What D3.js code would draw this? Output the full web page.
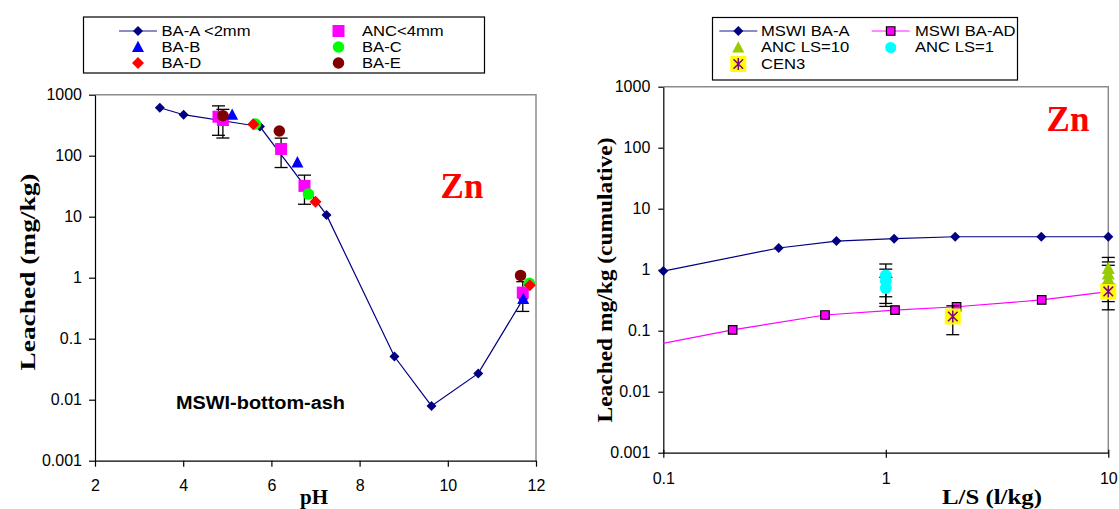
<!DOCTYPE html>
<html>
<head>
<meta charset="utf-8">
<script src="https://cdn.jsdelivr.net/npm/d3@7"></script>
<style>
  html, body { margin: 0; padding: 0; background: #fff; }
  svg { display: block; }
</style>
</head>
<body>
<svg id="chart" width="1119" height="509"></svg>
<script>
// ---------- Left panel: leaching of Zn as a function of pH ----------
const yTickValues = [0.001, 0.01, 0.1, 1, 10, 100, 1000];
const yTickLabels = ["0.001", "0.01", "0.1", "1", "10", "100", "1000"];
const pHTicks = [2, 4, 6, 8, 10, 12];

const baA_pH  = [3.47, 4.01, 5.74, 7.25, 8.79, 9.63, 10.69, 11.71];
const baA_val = [612, 470, 300, 10.7, 0.051, 0.0079, 0.027, 0.45];

const anc_pH  = [4.80, 4.90, 6.22, 6.75, 11.70];
const anc_val = [436, 385, 129, 32, 0.57];
const anc_err = [220, 190, 65, 16, 0.29];

const baB_pH  = [5.11, 6.59, 11.71];
const baB_val = [470, 78, 0.45];

const baC_pH  = [5.64, 6.84, 11.85];
const baC_val = [331, 23.5, 0.81];

const baD_pH  = [5.59, 7.00, 11.86];
const baD_val = [327, 17.6, 0.75];

const baE_pH  = [4.90, 6.18, 11.65];
const baE_val = [453, 254, 1.09];

// ---------- Right panel: cumulative release vs L/S ----------
const lsTicks = [0.1, 1, 10];
const lsTickLabels = ["0.1", "1", "10"];

const mswiA_ls  = [0.1, 0.33, 0.6, 1.09, 2.05, 5.0, 10];
const mswiA_val = [0.95, 2.27, 2.95, 3.22, 3.47, 3.47, 3.47];

const mswiAD_ls  = [0.05, 0.205, 0.533, 1.1, 2.08, 5.02, 10];
const mswiAD_val = [0.038, 0.103, 0.181, 0.218, 0.247, 0.319, 0.436];

const ancLS10_ls  = [10, 10, 10];
const ancLS10_val = [1.05, 0.85, 0.70];
const ancLS10_err = [0.54, 0.49, 0.48];

const ancLS1_ls  = [1, 1, 1];
const ancLS1_val = [0.80, 0.65, 0.50];
const ancLS1_err = [0.44, 0.37, 0.25];

const cen3_ls  = [2, 10];
const cen3_val = [0.171, 0.44];
const cen3_err = [0.085, 0.14];

// ---------- helpers ----------
const svg = d3.select("#chart");
const NAVY = "#000080", MAGENTA = "#ff00ff", BLUE = "#0000ff",
      LIME = "#00ff00", RED = "#ff0000", MAROON = "#800000",
      OLIVE = "#99cc00", CYAN = "#00ffff", YELLOW = "#ffff00", PURPLE = "#800080";
const SANS = "Liberation Sans, Arial, sans-serif";
const SERIF = "Liberation Serif, Times New Roman, serif";

function zip(xs, ys, es) {
  return xs.map((x, i) => ({ x, y: ys[i], e: es ? es[i] : null }));
}

function markerPath(shape, s) {
  const h = s / 2;
  if (shape === "diamond") return `M0,${-h}L${h},0L0,${h}L${-h},0Z`;
  if (shape === "square") return `M${-h},${-h}H${h}V${h}H${-h}Z`;
  if (shape === "triangle") return `M0,${-h * 1.05}L${h},${h * 0.85}L${-h},${h * 0.85}Z`;
  if (shape === "circle") return d3.symbol(d3.symbolCircle, Math.PI * h * h)();
  return "";
}

function drawMarkers(g, data, xs, ys, shape, size, fill, stroke) {
  g.selectAll(null).data(data).join("path")
    .attr("d", markerPath(shape, size))
    .attr("transform", d => `translate(${xs(d.x)},${ys(d.y)})`)
    .attr("fill", fill)
    .attr("stroke", stroke || "none")
    .attr("stroke-width", stroke ? 1.2 : 0);
}

function drawErrorBars(g, data, xs, ys, cap) {
  const eg = g.append("g").attr("stroke", "#000").attr("stroke-width", 1.3).attr("fill", "none");
  data.forEach(d => {
    const x = xs(d.x), yHi = ys(d.y + d.e), yLo = ys(Math.max(d.y - d.e, 1e-6));
    eg.append("line").attr("x1", x).attr("x2", x).attr("y1", yHi).attr("y2", yLo);
    eg.append("line").attr("x1", x - cap / 2).attr("x2", x + cap / 2).attr("y1", yHi).attr("y2", yHi);
    eg.append("line").attr("x1", x - cap / 2).attr("x2", x + cap / 2).attr("y1", yLo).attr("y2", yLo);
  });
}

function cen3Marker(g, data, xs, ys) {
  const s = 16, h = 6;
  const mg = g.selectAll(null).data(data).join("g")
    .attr("transform", d => `translate(${xs(d.x)},${ys(d.y)})`);
  mg.append("rect").attr("x", -s / 2).attr("y", -s / 2).attr("width", s).attr("height", s).attr("fill", YELLOW);
  mg.append("path")
    .attr("d", `M0,${-h}V${h}M${-h * 0.8},${-h * 0.8}L${h * 0.8},${h * 0.8}M${h * 0.8},${-h * 0.8}L${-h * 0.8},${h * 0.8}`)
    .attr("stroke", PURPLE).attr("stroke-width", 1.5).attr("fill", "none");
}

function styleAxis(g) {
  g.selectAll("path.domain").attr("stroke", "#000").attr("stroke-width", 1.2);
  g.selectAll(".tick line").attr("stroke", "#000").attr("stroke-width", 1.2);
  g.selectAll(".tick text").attr("font-family", SANS).attr("font-size", 16).attr("fill", "#000");
}

// legend label: compact font, widened to the legend's column spacing
function legendText(g, x, y, label) {
  const t = g.append("text").attr("x", x).attr("y", y)
    .attr("font-family", SANS).attr("font-size", 14.2).text(label);
  const w = t.node().getComputedTextLength();
  t.attr("textLength", w * 1.17).attr("lengthAdjust", "spacingAndGlyphs");
  return t;
}

// ================= LEFT PANEL =================
const xL = d3.scaleLinear().domain([2, 12]).range([95, 536]);
const yL = d3.scaleLog().domain([0.001, 1000]).range([460.7, 94.7]);

const left = svg.append("g");

// plot-area frame (top/right)
left.append("path")
  .attr("d", `M${xL(2)},${yL(1000)}H${xL(12)}V${yL(0.001)}`)
  .attr("fill", "none").attr("stroke", "#8c8c8c").attr("stroke-width", 1.5);

const yAxisL = left.append("g").attr("transform", `translate(${xL(2)},0)`)
  .call(d3.axisLeft(yL).tickValues(yTickValues)
    .tickFormat((d, i) => yTickLabels[i]).tickSizeInner(6).tickSizeOuter(0).tickPadding(7));
styleAxis(yAxisL);

const xAxisL = left.append("g").attr("transform", `translate(0,${yL(0.001)})`)
  .call(d3.axisBottom(xL).tickValues(pHTicks).tickFormat(d3.format("d"))
    .tickSizeInner(6).tickSizeOuter(0).tickPadding(13));
styleAxis(xAxisL);

// series
const lineL = d3.line().x(d => xL(d.x)).y(d => yL(d.y));
const baA = zip(baA_pH, baA_val);
left.append("path").attr("d", lineL(baA)).attr("fill", "none").attr("stroke", NAVY).attr("stroke-width", 1.2);
drawMarkers(left, baA, xL, yL, "diamond", 10, NAVY);

const anc = zip(anc_pH, anc_val, anc_err);
drawErrorBars(left, anc, xL, yL, 13);
drawMarkers(left, anc, xL, yL, "square", 12, MAGENTA);

drawMarkers(left, zip(baB_pH, baB_val), xL, yL, "triangle", 12, BLUE);
drawMarkers(left, zip(baC_pH, baC_val), xL, yL, "circle", 11.5, LIME);
drawMarkers(left, zip(baD_pH, baD_val), xL, yL, "diamond", 12, RED);
drawMarkers(left, zip(baE_pH, baE_val), xL, yL, "circle", 11.5, MAROON);

// annotations
left.append("text").attr("x", 462).attr("y", 197.5).attr("text-anchor", "middle")
  .attr("font-family", SERIF).attr("font-weight", "bold")
  .attr("font-size", 35).attr("fill", RED).text("Zn");
left.append("text").attr("x", 176).attr("y", 408.5)
  .attr("font-family", SANS).attr("font-weight", "bold")
  .attr("font-size", 17.5).attr("textLength", 169).attr("lengthAdjust", "spacingAndGlyphs")
  .text("MSWI-bottom-ash");

// axis titles
left.append("text").attr("x", 314).attr("y", 504).attr("text-anchor", "middle")
  .attr("font-family", SERIF).attr("font-weight", "bold")
  .attr("font-size", 21).text("pH");
left.append("text").attr("transform", "translate(35,272) rotate(-90)").attr("text-anchor", "middle")
  .attr("font-family", SERIF).attr("font-weight", "bold")
  .attr("font-size", 21).attr("textLength", 197).attr("lengthAdjust", "spacingAndGlyphs")
  .text("Leached (mg/kg)");

// legend
const legL = left.append("g");
legL.append("rect").attr("x", 83.5).attr("y", 17).attr("width", 401).attr("height", 56)
  .attr("fill", "#fff").attr("stroke", "#000").attr("stroke-width", 1.2);
const legLItems = [
  { label: "BA-A <2mm", shape: "diamond", size: 10, fill: NAVY, line: NAVY, col: 0, row: 0 },
  { label: "ANC<4mm", shape: "square", size: 12, fill: MAGENTA, col: 1, row: 0 },
  { label: "BA-B", shape: "triangle", size: 12, fill: BLUE, col: 0, row: 1 },
  { label: "BA-C", shape: "circle", size: 11.5, fill: LIME, col: 1, row: 1 },
  { label: "BA-D", shape: "diamond", size: 12, fill: RED, col: 0, row: 2 },
  { label: "BA-E", shape: "circle", size: 11.5, fill: MAROON, col: 1, row: 2 }
];
legLItems.forEach(it => {
  const mx = it.col === 0 ? 138 : 338.5, ty = 35.5 + it.row * 16, my = 31 + it.row * 16;
  if (it.line) legL.append("line").attr("x1", mx - 19).attr("x2", mx + 19).attr("y1", my).attr("y2", my)
    .attr("stroke", it.line).attr("stroke-opacity", 0.6).attr("stroke-width", 1.5);
  legL.append("path").attr("d", markerPath(it.shape, it.size)).attr("transform", `translate(${mx},${my})`)
    .attr("fill", it.fill);
  legendText(legL, mx + 23.5, ty, it.label);
});

// ================= RIGHT PANEL =================
const xR = d3.scaleLog().domain([0.1, 10]).range([663.3, 1108.3]);
const yR = d3.scaleLog().domain([0.001, 1000]).range([452.7, 86.7]);

const right = svg.append("g");
right.append("path")
  .attr("d", `M${xR(0.1)},${yR(1000)}H${xR(10)}V${yR(0.001)}`)
  .attr("fill", "none").attr("stroke", "#8c8c8c").attr("stroke-width", 1.5);

const yAxisR = right.append("g").attr("transform", `translate(${xR(0.1)},0)`)
  .call(d3.axisLeft(yR).tickValues(yTickValues)
    .tickFormat((d, i) => yTickLabels[i]).tickSizeInner(5).tickSizeOuter(0).tickPadding(8));
styleAxis(yAxisR);

const xAxisR = right.append("g").attr("transform", `translate(0,${yR(0.001)})`)
  .call(d3.axisBottom(xR).tickValues(lsTicks).tickFormat((d, i) => lsTickLabels[i])
    .tickSizeInner(4).tickSizeOuter(0).tickPadding(16));
styleAxis(xAxisR);
xAxisR.selectAll(".tick line").attr("y1", -3).attr("y2", 5);

right.append("clipPath").attr("id", "plotR").append("rect")
  .attr("x", xR(0.1)).attr("y", yR(1000)).attr("width", xR(10) - xR(0.1)).attr("height", yR(0.001) - yR(1000));
const plotR = right.append("g").attr("clip-path", "url(#plotR)");
const overR = right.append("g");

const lineR = d3.line().x(d => xR(d.x)).y(d => yR(d.y));
const mA = zip(mswiA_ls, mswiA_val);
plotR.append("path").attr("d", lineR(mA)).attr("fill", "none").attr("stroke", NAVY).attr("stroke-width", 1.2);
drawMarkers(overR, mA, xR, yR, "diamond", 10, NAVY);

const mAD = zip(mswiAD_ls, mswiAD_val);
plotR.append("path").attr("d", lineR(mAD)).attr("fill", "none").attr("stroke", MAGENTA).attr("stroke-width", 1.2);
drawMarkers(plotR, mAD, xR, yR, "square", 8.5, MAGENTA, "#000");

const a10 = zip(ancLS10_ls, ancLS10_val, ancLS10_err);
drawErrorBars(overR, a10, xR, yR, 13);
drawMarkers(overR, a10, xR, yR, "triangle", 13, OLIVE);

const a1 = zip(ancLS1_ls, ancLS1_val, ancLS1_err);
drawErrorBars(overR, a1, xR, yR, 13);
drawMarkers(overR, a1, xR, yR, "circle", 12, CYAN);

const c3 = zip(cen3_ls, cen3_val, cen3_err);
drawErrorBars(overR, c3, xR, yR, 13);
cen3Marker(overR, c3, xR, yR);

// annotation
right.append("text").attr("x", 1068).attr("y", 130.5).attr("text-anchor", "middle")
  .attr("font-family", SERIF).attr("font-weight", "bold")
  .attr("font-size", 35).attr("fill", RED).text("Zn");

// axis titles
right.append("text").attr("x", 992).attr("y", 504).attr("text-anchor", "middle")
  .attr("font-family", SERIF).attr("font-weight", "bold")
  .attr("font-size", 21).attr("textLength", 100).attr("lengthAdjust", "spacingAndGlyphs")
  .text("L/S (l/kg)");
right.append("text").attr("transform", "translate(612,280) rotate(-90)").attr("text-anchor", "middle")
  .attr("font-family", SERIF).attr("font-weight", "bold")
  .attr("font-size", 21).attr("textLength", 285).attr("lengthAdjust", "spacingAndGlyphs")
  .text("Leached mg/kg (cumulative)");

// legend
const legR = right.append("g");
legR.append("rect").attr("x", 712.5).attr("y", 17.5).attr("width", 305).attr("height", 62.5)
  .attr("fill", "#fff").attr("stroke", "#000").attr("stroke-width", 1.2);
const legRItems = [
  { label: "MSWI BA-A", kind: "diamond", col: 0, row: 0 },
  { label: "MSWI BA-AD", kind: "squareLine", col: 1, row: 0 },
  { label: "ANC LS=10", kind: "triangle", col: 0, row: 1 },
  { label: "ANC LS=1", kind: "circle", col: 1, row: 1 },
  { label: "CEN3", kind: "cen3", col: 0, row: 2 }
];
legRItems.forEach(it => {
  const mx = it.col === 0 ? 738.3 : 890.7, my = 31 + it.row * 16.5, ty = 35.7 + it.row * 16.5;
  if (it.kind === "diamond") {
    legR.append("line").attr("x1", mx - 19).attr("x2", mx + 19).attr("y1", my).attr("y2", my)
      .attr("stroke", NAVY).attr("stroke-opacity", 0.6).attr("stroke-width", 1.5);
    legR.append("path").attr("d", markerPath("diamond", 10)).attr("transform", `translate(${mx},${my})`).attr("fill", NAVY);
  } else if (it.kind === "squareLine") {
    legR.append("line").attr("x1", mx - 19).attr("x2", mx + 19).attr("y1", my).attr("y2", my)
      .attr("stroke", MAGENTA).attr("stroke-opacity", 0.6).attr("stroke-width", 1.5);
    legR.append("path").attr("d", markerPath("square", 8.5)).attr("transform", `translate(${mx},${my})`)
      .attr("fill", MAGENTA).attr("stroke", "#000").attr("stroke-width", 1.2);
  } else if (it.kind === "triangle") {
    legR.append("path").attr("d", markerPath("triangle", 12)).attr("transform", `translate(${mx},${my})`).attr("fill", OLIVE);
  } else if (it.kind === "circle") {
    legR.append("path").attr("d", markerPath("circle", 11)).attr("transform", `translate(${mx},${my})`).attr("fill", CYAN);
  } else {
    cen3Marker(legR, [{ x: 0, y: 0 }], () => mx, () => my);
  }
  legendText(legR, it.col === 0 ? 761 : 915, ty, it.label);
});
</script>
</body>
</html>
